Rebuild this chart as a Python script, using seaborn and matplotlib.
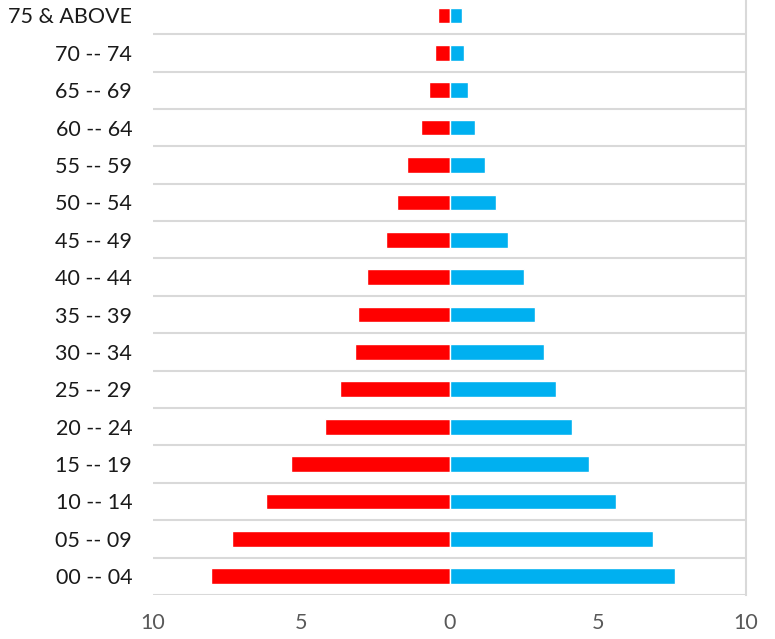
import matplotlib
matplotlib.use("Agg")
import matplotlib.pyplot as plt
import seaborn as sns
import numpy as np

# age groups, top to bottom
age_groups = ["75 & ABOVE", "70 -- 74", "65 -- 69", "60 -- 64", "55 -- 59",
              "50 -- 54", "45 -- 49", "40 -- 44", "35 -- 39", "30 -- 34",
              "25 -- 29", "20 -- 24", "15 -- 19", "10 -- 14", "05 -- 09",
              "00 -- 04"]

# share of population (%), left (red) and right (blue) sides
left_pct = [0.40, 0.48, 0.68, 0.97, 1.42, 1.77, 2.15, 2.77, 3.07, 3.19,
            3.71, 4.21, 5.33, 6.19, 7.34, 8.06]
right_pct = [0.42, 0.49, 0.64, 0.87, 1.19, 1.56, 1.96, 2.51, 2.89, 3.19,
             3.58, 4.13, 4.70, 5.63, 6.88, 7.60]

x_ticks = [-10, -5, 0, 5, 10]
x_tick_labels = ["10", "5", "0", "5", "10"]

sns.set_style("white")
plt.rcParams["font.family"] = ["Lato", "DejaVu Sans"]

fig = plt.figure(figsize=(7.75, 6.39), dpi=100)
ax = fig.add_axes([0.1975, 0.069, 0.765, 0.936])

sns.barplot(x=[-v for v in left_pct], y=age_groups, color="#FF0000",
            width=0.42, orient="h", ax=ax, saturation=1)
sns.barplot(x=right_pct, y=age_groups, color="#00B0F0",
            width=0.42, orient="h", ax=ax, saturation=1)

ax.set_xlim(-10, 10)
ax.set_ylim(len(age_groups) - 0.5, -0.5)
ax.set_xticks(x_ticks)
ax.set_xticklabels(x_tick_labels, fontsize=15.5, color="#595959")
ax.tick_params(axis="y", labelsize=15.5, labelcolor="#1a1a1a", length=0, pad=15)
ax.tick_params(axis="x", length=0, pad=13)

# category boundary lines
ax.set_yticks(np.arange(len(age_groups) + 1) - 0.5, minor=True)
ax.grid(which="minor", axis="y", color="#D9D9D9", linewidth=1.5)
ax.tick_params(which="minor", length=0)
ax.set_axisbelow(True)

for side in ["left", "top", "bottom"]:
    ax.spines[side].set_visible(False)
ax.spines["right"].set_color("#D9D9D9")
ax.spines["right"].set_linewidth(1.5)

ax.set_xlabel("")
ax.set_ylabel("")

fig.savefig("out.png", dpi=100)
